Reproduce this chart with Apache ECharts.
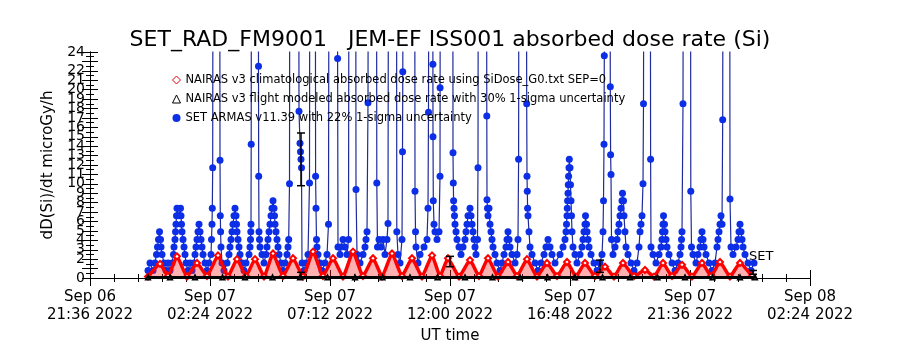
<!DOCTYPE html>
<html>
<head>
<meta charset="utf-8">
<script src="https://cdn.jsdelivr.net/npm/echarts@6/dist/echarts.min.js"></script>
<style>
  html, body { margin: 0; background: #fff; }
  #chart { width: 900px; height: 350px; }
</style>
</head>
<body>
<div id="chart"></div>
<script>
// x values are hours after Sep 06 21:36 UT, y values are microGy/h
const tickLabels = ['Sep 06\n21:36 2022', 'Sep 07\n02:24 2022', 'Sep 07\n07:12 2022', 'Sep 07\n12:00 2022',
  'Sep 07\n16:48 2022', 'Sep 07\n21:36 2022', 'Sep 08\n02:24 2022'];

const seriesNames = [
  'NAIRAS v3 climatological absorbed dose rate using SiDose_G0.txt SEP=0',
  'NAIRAS v3 flight modeled absorbed dose rate with 30% 1-sigma uncertainty',
  'SET ARMAS v11.39 with 22% 1-sigma uncertainty'
];

// NAIRAS climatological (red diamonds)
const nairasClim = [[2.32,0.15],[2.80,1.5],[3.12,0.2],[3.48,2.3],[3.88,0.15],[4.28,1.6],[4.68,0.2],[5.12,2.4],
  [5.52,0.15],[5.88,2.0],[6.24,0.2],[6.60,2.0],[6.96,0.15],[7.32,2.6],[7.72,0.2],[8.12,2.1],[8.52,0.15],[8.92,2.8],
  [9.32,0.2],[9.72,2.1],[10.12,0.15],[10.52,2.8],[10.92,0.2],[11.32,2.1],[11.68,0.15],[12.08,2.6],[12.48,0.2],
  [12.88,2.1],[13.28,0.15],[13.68,2.4],[14.00,0.2],[14.32,2.1],[14.76,0.15],[15.20,1.9],[15.56,0.2],[15.92,2.1],
  [16.32,0.15],[16.72,1.7],[17.08,0.2],[17.48,2.0],[17.88,0.15],[18.28,1.6],[18.68,0.2],[19.08,1.7],[19.44,0.15],
  [19.80,1.6],[20.20,0.2],[20.60,1.2],[20.96,0.15],[21.32,1.6],[21.76,0.2],[22.20,0.85],[22.56,0.15],[22.92,1.6],
  [23.28,0.2],[23.68,1.4],[24.08,0.15],[24.48,1.6],[24.84,0.2],[25.20,1.7],[25.60,0.15],[26.00,1.6],[26.48,0.2]];

// NAIRAS flight modeled (black triangles)
const nairasFlight = [[2.32,0.05],[3.2,0.06],[4.2,0.05],[5.3,0.06],[6.2,0.05],[7.3,0.06],[8.4,0.05],[9.5,0.06],
  [10.6,0.05],[11.7,0.06],[12.8,0.05],[13.9,0.06],[15.0,0.05],[16.1,0.06],[17.2,0.05],[18.3,0.06],[19.4,0.05],
  [20.5,0.06],[21.6,0.05],[22.7,0.06],[23.8,0.05],[24.9,0.06],[26.0,0.05],[26.6,0.05]];

// error bars: [hour, low, high]
const errBars = [[8.44,9.8,15.4],[8.44,0.05,0.6],[14.4,1.2,2.3],[20.4,0.6,1.9],[26.52,0.4,0.8]];

// SET ARMAS measurements (blue), values above 24 run off the top of the plot
const setArmas = [[2.32,0.8],[2.40,1.6],[2.52,0.8],[2.60,1.6],[2.66,2.5],[2.70,3.3],[2.74,4.1],[2.78,4.9],[2.82,4.1],
  [2.84,3.3],[2.88,2.5],[2.96,1.6],[3.04,0.8],[3.12,1.6],[3.20,0.8],[3.28,1.6],[3.34,2.5],[3.36,3.3],[3.40,4.1],
  [3.42,4.9],[3.44,5.7],[3.46,6.6],[3.48,7.4],[3.56,6.6],[3.62,7.4],[3.64,6.6],[3.66,5.7],[3.68,4.9],[3.72,4.1],
  [3.76,3.3],[3.80,2.5],[3.84,1.6],[3.92,0.8],[4.00,1.6],[4.08,0.8],[4.16,1.6],[4.20,2.5],[4.24,3.3],[4.28,4.1],
  [4.32,4.9],[4.36,5.7],[4.40,4.9],[4.44,4.1],[4.48,3.3],[4.52,2.5],[4.60,1.6],[4.68,0.8],[4.76,1.6],[4.84,2.5],
  [4.86,4.1],[4.88,5.7],[4.892,7.4],[4.908,11.7],[4.92,40],[5.188,40],[5.20,12.5],[5.212,6.6],[5.224,4.9],[5.24,3.3],
  [5.28,1.6],[5.36,0.8],[5.48,1.6],[5.56,2.5],[5.60,3.3],[5.64,4.1],[5.68,4.9],[5.72,5.7],[5.76,6.6],[5.80,7.4],
  [5.84,6.6],[5.86,5.7],[5.88,4.9],[5.92,4.1],[5.96,3.3],[6.00,2.5],[6.08,1.6],[6.16,0.8],[6.24,1.6],[6.36,2.5],
  [6.40,3.3],[6.42,4.1],[6.432,4.9],[6.44,5.7],[6.448,14.2],[6.456,40],[6.728,40],[6.74,22.5],[6.748,10.8],[6.76,4.9],
  [6.78,4.1],[6.80,3.3],[6.88,2.5],[6.96,1.6],[7.04,2.5],[7.08,3.3],[7.12,4.1],[7.16,4.9],[7.20,5.7],[7.24,6.6],
  [7.28,7.4],[7.32,8.2],[7.36,7.4],[7.38,6.6],[7.40,5.7],[7.44,4.9],[7.48,4.1],[7.52,3.3],[7.56,2.5],[7.64,1.6],
  [7.72,0.8],[7.80,1.6],[7.88,2.5],[7.92,3.3],[7.948,4.1],[7.98,10.0],[7.992,40],[8.348,40],[8.36,17.7],[8.40,14.3],
  [8.42,13.4],[8.44,12.6],[8.46,11.7],[8.48,1.6],[8.56,0.8],[8.64,1.6],[8.72,2.5],[8.78,10.1],[8.792,40],[9.012,40],
  [9.024,10.8],[9.04,7.4],[9.06,4.1],[9.08,3.3],[9.12,2.5],[9.20,1.6],[9.28,0.8],[9.40,1.6],[9.48,2.5],[9.54,5.7],
  [9.56,40],[9.892,40],[9.904,23.3],[9.92,3.3],[10.00,2.5],[10.04,3.3],[10.12,4.1],[10.20,3.3],[10.28,2.5],[10.34,4.1],
  [10.36,40],[10.628,40],[10.64,9.4],[10.68,2.5],[10.80,1.6],[10.92,2.5],[11.00,3.3],[11.04,4.1],[11.08,4.9],
  [11.12,18.6],[11.132,40],[11.46,40],[11.472,10.1],[11.50,3.3],[11.56,4.1],[11.64,3.3],[11.72,4.1],[11.80,2.5],
  [11.88,4.1],[11.92,5.8],[11.94,40],[12.26,40],[12.272,4.9],[12.32,2.5],[12.40,1.6],[12.48,4.1],[12.50,13.4],
  [12.512,21.9],[12.524,40],[12.988,40],[13.00,9.2],[13.02,4.9],[13.04,3.3],[13.12,1.6],[13.20,2.5],[13.36,3.3],
  [13.48,4.1],[13.52,7.4],[13.54,17.6],[13.552,40],[13.712,40],[13.716,22.7],[13.72,15.0],[13.732,8.2],[13.76,5.7],
  [13.80,4.9],[13.88,4.1],[13.96,4.9],[14.00,10.8],[14.004,20.2],[14.008,40],[14.512,40],[14.52,13.3],[14.532,10.1],
  [14.544,8.2],[14.56,7.4],[14.58,6.6],[14.60,5.7],[14.64,4.9],[14.68,4.1],[14.76,3.3],[14.84,2.5],[14.92,3.3],
  [15.00,4.1],[15.04,4.9],[15.08,5.7],[15.12,6.6],[15.20,7.4],[15.24,6.6],[15.28,5.7],[15.32,4.9],[15.36,4.1],
  [15.40,3.3],[15.44,2.5],[15.50,4.1],[15.52,11.7],[15.532,40],[15.86,40],[15.872,17.2],[15.88,8.3],[15.90,7.4],
  [15.92,6.6],[15.96,7.4],[16.00,5.7],[16.04,4.9],[16.08,4.1],[16.12,3.3],[16.20,2.5],[16.28,1.6],[16.40,0.8],
  [16.48,1.6],[16.56,2.5],[16.64,3.3],[16.68,4.1],[16.72,4.9],[16.76,4.1],[16.80,3.3],[16.88,2.5],[17.00,1.6],
  [17.08,2.5],[17.12,4.1],[17.144,12.6],[17.156,40],[17.456,40],[17.468,18.5],[17.48,10.8],[17.492,9.2],[17.504,7.4],
  [17.52,6.6],[17.56,4.9],[17.60,3.3],[17.68,2.5],[17.80,1.6],[17.92,0.8],[18.04,1.6],[18.16,2.5],[18.24,3.3],
  [18.32,4.1],[18.40,3.3],[18.48,2.5],[18.60,1.6],[18.80,2.5],[18.92,3.3],[19.00,4.1],[19.04,4.9],[19.06,5.7],
  [19.08,6.6],[19.092,7.4],[19.104,8.2],[19.12,9.0],[19.132,9.9],[19.144,10.8],[19.16,11.7],[19.172,12.6],[19.20,11.7],
  [19.22,9.9],[19.24,8.2],[19.26,6.6],[19.28,4.9],[19.32,3.3],[19.40,2.5],[19.48,1.6],[19.60,2.5],[19.68,3.3],
  [19.72,4.1],[19.76,4.9],[19.80,5.7],[19.82,6.6],[19.86,5.7],[19.88,4.9],[19.92,4.1],[19.96,3.3],[20.04,2.5],
  [20.16,1.6],[20.28,0.8],[20.40,1.6],[20.48,2.5],[20.52,4.9],[20.54,8.2],[20.56,14.2],[20.572,23.6],[20.584,40],
  [20.80,40],[20.812,20.3],[20.824,13.1],[20.84,11.0],[20.86,4.1],[20.92,2.5],[21.00,3.3],[21.08,4.1],[21.12,4.9],
  [21.16,5.7],[21.20,6.6],[21.24,7.4],[21.28,8.2],[21.30,9.0],[21.34,8.2],[21.36,6.6],[21.40,4.9],[21.44,3.3],
  [21.52,2.5],[21.64,1.6],[21.76,0.8],[21.88,1.6],[21.96,3.3],[22.00,4.9],[22.04,5.7],[22.08,6.6],[22.12,10.0],
  [22.14,18.5],[22.152,40],[22.412,40],[22.424,12.6],[22.44,3.3],[22.52,2.5],[22.64,1.6],[22.76,2.5],[22.84,3.3],
  [22.88,4.1],[22.90,4.9],[22.92,5.7],[22.94,6.6],[22.98,5.7],[23.00,4.9],[23.04,4.1],[23.08,3.3],[23.16,2.5],
  [23.28,1.6],[23.40,0.8],[23.52,1.6],[23.60,2.5],[23.64,3.3],[23.66,4.1],[23.68,4.9],[23.72,18.5],[23.732,40],
  [24.02,40],[24.032,9.2],[24.06,3.3],[24.12,2.5],[24.24,1.6],[24.32,2.5],[24.40,3.3],[24.44,4.1],[24.48,4.9],
  [24.52,4.1],[24.56,3.3],[24.64,2.5],[24.76,1.6],[24.88,0.8],[25.00,1.6],[25.08,3.3],[25.12,4.1],[25.16,4.9],
  [25.20,5.7],[25.24,6.6],[25.28,5.7],[25.308,16.8],[25.32,40],[25.588,40],[25.60,8.4],[25.64,3.3],[25.72,2.5],
  [25.84,3.3],[25.92,4.1],[25.96,4.9],[26.00,5.7],[26.04,4.9],[26.08,4.1],[26.12,3.3],[26.20,2.5],[26.32,1.6],
  [26.44,0.8],[26.56,1.6]];

const font = 'DejaVu Sans';
const chart = echarts.init(document.getElementById('chart'), null, { renderer: 'canvas' });

const xCommon = {
  type: 'value', min: 0, max: 28.8, interval: 4.8,
  axisLine: { lineStyle: { color: '#000', width: 1 } },
  axisTick: { inside: true, length: 8, lineStyle: { color: '#000' } },
  minorTick: { show: true, splitNumber: 5, length: 4, lineStyle: { color: '#000' } },
  splitLine: { show: false }
};
const yCommon = {
  type: 'value', min: 0, max: 24, interval: 1,
  axisLine: { show: true, lineStyle: { color: '#000', width: 1 } },
  axisTick: { show: true, inside: true, length: 8, lineStyle: { color: '#000' } },
  minorTick: { show: true, splitNumber: 2, length: 4, lineStyle: { color: '#000' } },
  splitLine: { show: false }
};

chart.setOption({
  animation: false,
  backgroundColor: '#fff',
  title: {
    text: 'SET_RAD_FM9001   JEM-EF ISS001 absorbed dose rate (Si)',
    left: 'center', top: 24,
    textStyle: { fontFamily: font, fontSize: 22, fontWeight: 'normal', color: '#000' }
  },
  legend: {
    orient: 'vertical', left: 167, top: 69, itemWidth: 8, itemHeight: 8, itemGap: 7,
    textStyle: { fontFamily: font, fontSize: 11.5, color: '#000' },
    data: [
      { name: seriesNames[0], icon: 'path://M5,0 L10,5 L5,10 L0,5 Z',
        itemStyle: { color: 'rgba(0,0,0,0)', borderColor: '#e00000', borderWidth: 1 } },
      { name: seriesNames[1], icon: 'path://M5,0 L10,10 L0,10 Z',
        itemStyle: { color: 'rgba(0,0,0,0)', borderColor: '#000', borderWidth: 1 } },
      { name: seriesNames[2], icon: 'circle', itemStyle: { color: '#0b2ee6', borderWidth: 0 } }
    ]
  },
  grid: { left: 90, right: 90, top: 52, bottom: 72 },
  xAxis: [
    Object.assign({}, xCommon, {
      position: 'bottom',
      name: 'UT time', nameLocation: 'middle', nameGap: 47,
      nameTextStyle: { fontFamily: font, fontSize: 15, color: '#000' },
      axisLabel: {
        fontFamily: font, fontSize: 15, color: '#000', lineHeight: 18, margin: 10,
        showMinLabel: true, showMaxLabel: true,
        formatter: v => tickLabels[Math.round(v / 4.8)] || ''
      }
    }),
    Object.assign({}, xCommon, { position: 'top', axisLabel: { show: false } })
  ],
  yAxis: [
    Object.assign({}, yCommon, {
      position: 'left',
      name: 'dD(Si)/dt microGy/h', nameLocation: 'middle', nameGap: 34, nameRotate: 90,
      nameTextStyle: { fontFamily: font, fontSize: 15, color: '#000' },
      axisLabel: { fontFamily: font, fontSize: 14, color: '#000', margin: 5,
        hideOverlap: false, showMinLabel: true, showMaxLabel: true }
    }),
    Object.assign({}, yCommon, { position: 'right', axisLabel: { show: false } })
  ],
  graphic: [{
    type: 'text', left: 749, top: 250,
    style: { text: 'SET', fontFamily: font, fontSize: 13, fill: '#000' }
  }],
  series: [
    {
      name: seriesNames[2], type: 'line', data: setArmas, z: 2,
      symbol: 'circle', symbolSize: 7,
      lineStyle: { color: '#1f2a9c', width: 1.2 },
      itemStyle: { color: '#0b2ee6' }
    },
    {
      name: seriesNames[0], type: 'line', data: nairasClim, z: 3,
      symbol: 'emptyDiamond', symbolSize: 6, smooth: 0.15,
      lineStyle: { color: '#ff0000', width: 3.5 },
      itemStyle: { color: '#ff0000', borderWidth: 1 },
      areaStyle: { color: 'rgba(255,30,30,0.5)' }
    },
    {
      name: seriesNames[1], type: 'line', data: nairasFlight, z: 4,
      symbol: 'emptyTriangle', symbolSize: 4,
      lineStyle: { color: '#000', width: 3 },
      itemStyle: { color: '#000' }
    },
    {
      type: 'custom', data: errBars, z: 5,
      encode: { x: 0, y: [1, 2] },
      renderItem: (params, api) => {
        const x = api.value(0);
        const hi = api.coord([x, api.value(2)]);
        const lo = api.coord([x, api.value(1)]);
        const w = 4;
        const st = { stroke: '#000', lineWidth: 1.5 };
        return {
          type: 'group',
          children: [
            { type: 'line', shape: { x1: hi[0], y1: hi[1], x2: lo[0], y2: lo[1] }, style: st },
            { type: 'line', shape: { x1: hi[0] - w, y1: hi[1], x2: hi[0] + w, y2: hi[1] }, style: st },
            { type: 'line', shape: { x1: lo[0] - w, y1: lo[1], x2: lo[0] + w, y2: lo[1] }, style: st }
          ]
        };
      }
    }
  ]
});
</script>
</body>
</html>
